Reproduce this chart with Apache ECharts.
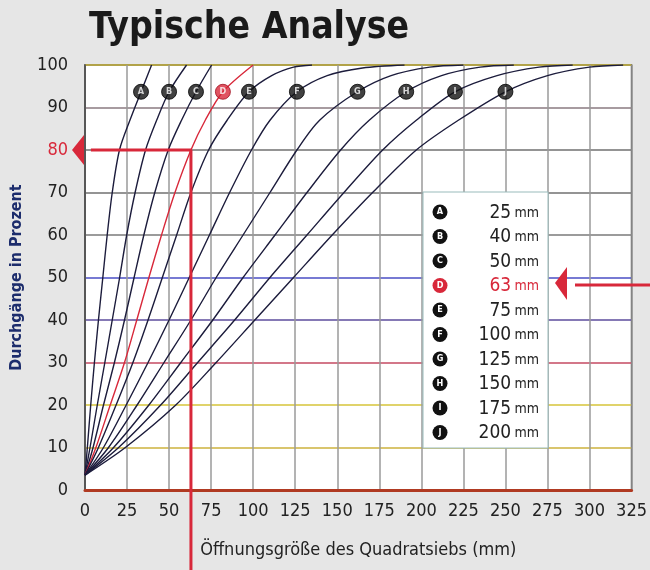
<!DOCTYPE html>
<html><head><meta charset="utf-8">
<script src="https://cdn.jsdelivr.net/npm/echarts@6/dist/echarts.min.js"></script>
<style>html,body{margin:0;padding:0;background:#e6e6e6}#c{width:650px;height:570px}</style>
</head><body><div id="c"></div>
<script>
const FONT = "'Liberation Sans Narrow','DejaVu Sans Condensed','Roboto Condensed','Liberation Sans',sans-serif";
const titleText = 'Typische Analyse';
const yAxisName = 'Durchgänge in Prozent';
const xAxisName = 'Öffnungsgröße des Quadratsiebs (mm)';
const xTicks = [0, 25, 50, 75, 100, 125, 150, 175, 200, 225, 250, 275, 300, 325];
const yTicks = [0, 10, 20, 30, 40, 50, 60, 70, 80, 90, 100];
const curveLetters = ['A', 'B', 'C', 'D', 'E', 'F', 'G', 'H', 'I', 'J'];
const curveSizes = ['25', '40', '50', '63', '75', '100', '125', '150', '175', '200'];
const highlightIndex = 3;

const curveA = [[0,3.5],[1.4,10],[3.4,20],[5.6,30],[8,40],[10.6,50],[13.2,60],[16.2,70],[20.5,80],[26.7,87],[33.3,93.7],[39.6,100]];
const curveB = [[0,3.5],[3,10],[7.3,20],[11.8,30],[16.2,40],[20.6,50],[24.8,60],[29.8,70],[36,80],[42.6,87],[50,93.7],[60.4,100]];
const curveC = [[0,3.5],[4.8,10],[11,20],[17.5,30],[23.5,40],[29.2,50],[35,60],[41.5,70],[49.5,80],[57.4,87],[66,93.7],[75.3,100]];
const curveD = [[0,3.5],[6.5,10],[15,20],[23.5,30],[30.8,40],[38,50],[45.5,60],[53.5,70],[63,80],[71.5,87],[82,93.7],[100,100]];
const curveE = [[0,3.5],[8,10],[18.5,20],[28.5,30],[37.5,40],[46,50],[54.5,60],[63,70],[73.5,80],[84.5,87],[97.5,93.7],[111,97.5],[124,99.5],[135,100]];
const curveF = [[0,3.5],[11,10],[24.5,20],[37.5,30],[50,40],[62,50],[74,60],[86,70],[99,80],[110,87],[126,93.7],[144,97.5],[165,99.3],[190,100]];
const curveG = [[0,3.5],[14,10],[31,20],[47,30],[63,40],[78,50],[94,60],[110,70],[126,80],[139.5,87],[162,93.7],[182,97.5],[205,99.5],[225,100]];
const curveH = [[0,3.5],[17,10],[38,20],[57,30],[76,40],[94,50],[113,60],[132,70],[152,80],[169,87],[191,93.7],[212,97.5],[235,99.5],[255,100]];
const curveI = [[0,3.5],[20,10],[45,20],[67,30],[89,40],[110,50],[132,60],[154,70],[177,80],[197,87],[220,93.7],[245,97.5],[270,99.5],[290,100]];
const curveJ = [[0,3.5],[24,10],[54,20],[78,30],[101,40],[124,50],[147,60],[171,70],[197,80],[222,87],[250,93.7],[275,97.5],[300,99.5],[320,100]];
const curves = [curveA, curveB, curveC, curveD, curveE, curveF, curveG, curveH, curveI, curveJ];

const labelX = [33.3, 50, 66, 82, 97.5, 126, 162, 191, 220, 250];
const labelY = 93.7;
const guide = [[3.5, 80], [63, 80], [63, -19]];

const DARK = '#1c1c3c';
const RED = '#d8283a';
const gridColors = ['#b0402a','#cdb23c','#d6c43a','#c44a62','#5c4c9c','#4a4ec4','#7a7a7a','#707070','#707070','#8a7a80','#c8b43c'];

const chart = echarts.init(document.getElementById('c'));

const series = curves.map((c, i) => ({
  type: 'line', data: c, smooth: 0.3, symbol: 'none',
  lineStyle: { color: i === highlightIndex ? RED : DARK, width: 1.4 }, z: 3, silent: true
}));
series.push({
  type: 'line', data: guide, symbol: 'none', clip: false,
  lineStyle: { color: RED, width: 3 }, z: 5, silent: true
});
series.push({
  type: 'scatter', symbol: 'circle', symbolSize: 15, z: 6,
  data: labelX.map((x, i) => ({
    value: [x, labelY],
    itemStyle: { color: i === highlightIndex ? RED : '#111', borderColor: i === highlightIndex ? '#a01020' : '#000', borderWidth: 1 },
    label: { formatter: curveLetters[i] }
  })),
  label: { show: true, position: 'inside', color: '#fff', fontSize: 9, fontWeight: 'bold', fontFamily: FONT }
});

chart.setOption({
  backgroundColor: '#e6e6e6',
  animation: false,
  title: { text: titleText, left: 84, top: 5, textStyle: { fontFamily: FONT, fontSize: 37, fontWeight: 'bold', color: '#1a1a1a' } },
  grid: { left: 85, right: 17, top: 65, bottom: 80, show: true, backgroundColor: '#ffffff', borderColor: '#444', borderWidth: 1.5 },
  xAxis: {
    type: 'value', min: 0, max: 325, interval: 25,
    axisLine: { show: true, lineStyle: { color: '#b03a22', width: 3 } },
    axisTick: { show: false },
    splitLine: { show: true, lineStyle: { color: '#9a9a9a', width: 1.5 } },
    axisLabel: { margin: 12, fontFamily: FONT, fontSize: 18, color: '#222', formatter: v => xTicks.includes(v) ? String(v) : '' },
    name: xAxisName, nameLocation: 'middle', nameGap: 51,
    nameTextStyle: { fontFamily: FONT, fontSize: 18, color: '#222' }
  },
  yAxis: {
    type: 'value', min: 0, max: 100, interval: 10,
    axisLine: { show: true, lineStyle: { color: '#444', width: 1.5 } },
    axisTick: { show: false },
    splitLine: { show: true, lineStyle: { color: gridColors, width: 1.6 } },
    axisLabel: {
      margin: 17, fontFamily: FONT, fontSize: 18, color: '#222',
      formatter: v => yTicks.includes(v) ? (v === 80 ? '{r|' + v + '}' : String(v)) : '',
      rich: { r: { color: RED, fontFamily: FONT, fontSize: 18 } }
    },
    name: yAxisName, nameLocation: 'middle', nameGap: 60,
    nameTextStyle: { fontFamily: FONT, fontSize: 16, fontWeight: 'bold', color: '#1c2c6c' }
  },
  series: series
});

// legend + arrows
const gfx = [];
const lx = 423, ly = 192, lw = 125, lh = 256;
gfx.push({ type: 'rect', shape: { x: lx, y: ly, width: lw, height: lh }, style: { fill: '#fff', stroke: '#9bb', lineWidth: 1 }, z: 10 });
curveLetters.forEach((L, i) => {
  const cy = 212 + i * 24.5;
  const col = i === highlightIndex ? RED : '#111';
  gfx.push({ type: 'circle', shape: { cx: 440, cy: cy, r: 7.5 }, style: { fill: col }, z: 11 });
  gfx.push({ type: 'text', x: 440, y: cy, style: { text: L, fill: '#fff', font: 'bold 9px ' + FONT, align: 'center', verticalAlign: 'middle' }, z: 12 });
  gfx.push({ type: 'text', x: 539, y: cy + 1, style: {
    text: '{n|' + curveSizes[i] + '} {m|mm}', align: 'right', verticalAlign: 'middle',
    rich: { n: { fontFamily: FONT, fontSize: 19, fill: i === highlightIndex ? RED : '#222', color: i === highlightIndex ? RED : '#222' },
            m: { fontFamily: FONT, fontSize: 14, fill: i === highlightIndex ? RED : '#222', color: i === highlightIndex ? RED : '#222' } }
  }, z: 12 });
});
const p80 = chart.convertToPixel({ gridIndex: 0 }, [0, 80]);
gfx.push({ type: 'polygon', shape: { points: [[72, p80[1]], [84, p80[1] - 15], [84, p80[1] + 15]] }, style: { fill: RED }, z: 10 });
gfx.push({ type: 'polygon', shape: { points: [[555, 283], [567, 267], [567, 300]] }, style: { fill: RED }, z: 13 });
gfx.push({ type: 'line', shape: { x1: 575, y1: 285, x2: 650, y2: 285 }, style: { stroke: RED, lineWidth: 3 }, z: 13 });
chart.setOption({ graphic: gfx });
</script></body></html>
